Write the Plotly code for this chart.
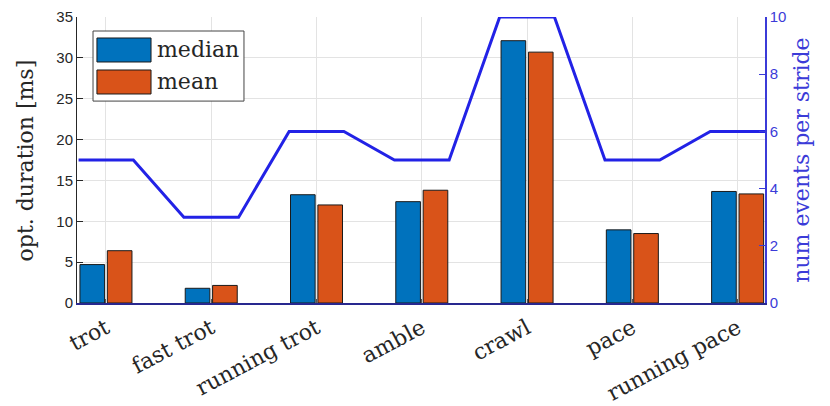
import plotly.graph_objects as go

categories = ["trot", "fast trot", "running trot", "amble", "crawl", "pace", "running pace"]
median_ms = [4.7, 1.8, 13.25, 12.4, 32.1, 8.95, 13.65]
mean_ms = [6.4, 2.15, 12.0, 13.8, 30.7, 8.5, 13.35]
events_per_stride = [5, 3, 6, 5, 10, 5, 6]
left_ticks = [0, 5, 10, 15, 20, 25, 30, 35]
right_ticks = [0, 2, 4, 6, 8, 10]

idx = list(range(1, len(categories) + 1))
half = 0.26
line_x, line_y = [], []
for i, v in zip(idx, events_per_stride):
    line_x += [i - half, i + half]
    line_y += [v, v]

BLUE = "#0072BD"
ORANGE = "#D95319"
LINE = "#2222e6"
AX2 = "#3b3bd8"
DARK = "#262626"
SERIF = "DejaVu Serif"
SANS = "Liberation Sans"

fig = go.Figure()
fig.add_trace(go.Bar(x=idx, y=median_ms, name="median", marker=dict(color=BLUE, line=dict(color="#1a1a1a", width=1)), yaxis="y"))
fig.add_trace(go.Bar(x=idx, y=mean_ms, name="mean", marker=dict(color=ORANGE, line=dict(color="#1a1a1a", width=1)), yaxis="y"))
fig.add_trace(go.Scatter(x=line_x, y=line_y, mode="lines", line=dict(color=LINE, width=3), yaxis="y2", showlegend=False))

# page body has an 8px margin, so the figure is sized to fit inside the window
fig.update_layout(
    width=822, height=398,
    margin=dict(l=69, r=65, t=9, b=103),
    paper_bgcolor="white", plot_bgcolor="white",
    barmode="group", bargap=0.48, bargroupgap=0.1,
    showlegend=False,
    xaxis=dict(
        range=[0.725, 7.26], tickmode="array", tickvals=idx, ticktext=categories,
        tickangle=-28, tickfont=dict(family=SERIF, size=22, color=DARK),
        ticklabelstandoff=2,
        showgrid=True, gridcolor="#e3e3e3", gridwidth=1,
        ticks="inside", ticklen=4, tickcolor="#555555",
        showline=True, linecolor="#28288f", linewidth=1.5, zeroline=False,
        automargin=False,
    ),
    yaxis=dict(
        range=[0, 35], tickmode="array", tickvals=left_ticks,
        tickfont=dict(family=SANS, size=15, color=DARK),
        showgrid=True, gridcolor="#e3e3e3", gridwidth=1,
        ticks="inside", ticklen=6, tickcolor=DARK,
        showline=True, linecolor=DARK, linewidth=1, zeroline=False,
        automargin=False,
    ),
    yaxis2=dict(
        range=[0, 10], overlaying="y", side="right", tickmode="array", tickvals=right_ticks,
        tickfont=dict(family=SANS, size=15, color=AX2),
        showgrid=False, ticks="inside", ticklen=6, tickcolor=AX2,
        showline=True, linecolor=AX2, linewidth=1.5, zeroline=False,
        automargin=False,
    ),
)

# axis titles
fig.add_annotation(xref="paper", yref="paper", x=-0.075, y=0.5, text="opt. duration [ms]", showarrow=False,
                   textangle=-90, xanchor="center", yanchor="middle",
                   font=dict(family=SERIF, size=22, color=DARK))
fig.add_annotation(xref="paper", yref="paper", x=1.052, y=0.5, text="num events per stride", showarrow=False,
                   textangle=-90, xanchor="center", yanchor="middle",
                   font=dict(family=SERIF, size=22, color=AX2))

# legend drawn as a framed box
fig.add_shape(type="rect", xref="paper", yref="paper", x0=0.0233, x1=0.2427, y0=0.706, y1=0.951,
              fillcolor="white", line=dict(color="#444444", width=1), layer="above")
fig.add_shape(type="rect", xref="paper", yref="paper", x0=0.029, x1=0.1076, y0=0.8427, y1=0.9266,
              fillcolor=BLUE, line=dict(color="#1a1a1a", width=1), layer="above")
fig.add_shape(type="rect", xref="paper", yref="paper", x0=0.029, x1=0.1076, y0=0.7308, y1=0.8147,
              fillcolor=ORANGE, line=dict(color="#1a1a1a", width=1), layer="above")
fig.add_annotation(xref="paper", yref="paper", x=0.1134, y=0.8881, text="median", showarrow=False,
                   xanchor="left", yanchor="middle", font=dict(family=SERIF, size=22, color=DARK))
fig.add_annotation(xref="paper", yref="paper", x=0.1134, y=0.7762, text="mean", showarrow=False,
                   xanchor="left", yanchor="middle", font=dict(family=SERIF, size=22, color=DARK))

fig.write_html("out.html")
